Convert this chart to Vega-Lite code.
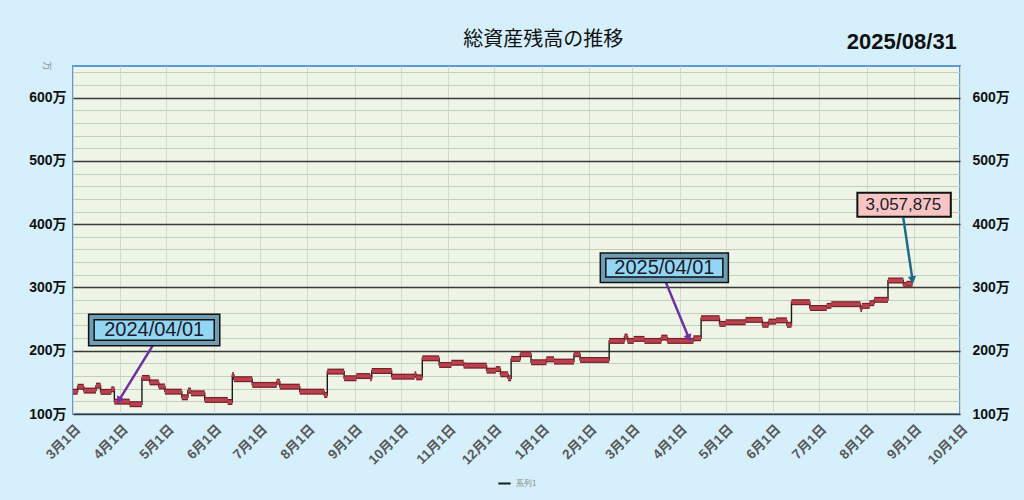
{
  "$schema": "https://vega.github.io/schema/vega-lite/v6.json",
  "width": 887,
  "height": 348,
  "autosize": {"type": "none"},
  "padding": {"left": 73, "top": 66, "right": 64, "bottom": 86},
  "background": "#d5f0fb",
  "config": {
    "view": {"fill": "#eef4e6", "stroke": "#5b9bd5", "strokeWidth": 2},
    "axis": {"labelFont": "Liberation Sans, Noto Sans CJK JP"},
    "axisX": {
      "format": "%-m月%-d日", "tickCount": "month",
      "labelAngle": -45, "labelFontSize": 13.5, "labelFontWeight": "bold", "labelColor": "#595959",
      "labelPadding": 8, "labelOverlap": false, "labelBound": false, "labelFlush": false,
      "ticks": false, "domain": false, "grid": true, "gridColor": "#d2d9ce",
      "titleOpacity": 0, "titleFontSize": 1, "titlePadding": 0
    },
    "legend": {"layout": {"bottom": {"anchor": "middle"}}}
  },
  "datasets": {
    "balance": [
      {"date": "2024-03-01", "total": 1352000},
      {"date": "2024-03-04", "total": 1430000},
      {"date": "2024-03-08", "total": 1370000},
      {"date": "2024-03-16", "total": 1448000},
      {"date": "2024-03-19", "total": 1350000},
      {"date": "2024-03-26", "total": 1390000},
      {"date": "2024-03-28", "total": 1195000},
      {"date": "2024-04-07", "total": 1155000},
      {"date": "2024-04-15", "total": 1570000},
      {"date": "2024-04-20", "total": 1500000},
      {"date": "2024-04-26", "total": 1435000},
      {"date": "2024-04-30", "total": 1353000},
      {"date": "2024-05-11", "total": 1264000},
      {"date": "2024-05-15", "total": 1370000},
      {"date": "2024-05-17", "total": 1327000},
      {"date": "2024-05-26", "total": 1222000},
      {"date": "2024-06-10", "total": 1190000},
      {"date": "2024-06-13", "total": 1617000},
      {"date": "2024-06-14", "total": 1550000},
      {"date": "2024-06-26", "total": 1460000},
      {"date": "2024-07-12", "total": 1510000},
      {"date": "2024-07-14", "total": 1432000},
      {"date": "2024-07-27", "total": 1353000},
      {"date": "2024-08-12", "total": 1300000},
      {"date": "2024-08-14", "total": 1670000},
      {"date": "2024-08-25", "total": 1565000},
      {"date": "2024-09-02", "total": 1600000},
      {"date": "2024-09-11", "total": 1565000},
      {"date": "2024-09-12", "total": 1680000},
      {"date": "2024-09-25", "total": 1590000},
      {"date": "2024-10-10", "total": 1628000},
      {"date": "2024-10-11", "total": 1580000},
      {"date": "2024-10-15", "total": 1880000},
      {"date": "2024-10-26", "total": 1775000},
      {"date": "2024-11-03", "total": 1810000},
      {"date": "2024-11-11", "total": 1764000},
      {"date": "2024-11-26", "total": 1685000},
      {"date": "2024-12-02", "total": 1710000},
      {"date": "2024-12-05", "total": 1628000},
      {"date": "2024-12-10", "total": 1565000},
      {"date": "2024-12-12", "total": 1870000},
      {"date": "2024-12-18", "total": 1945000},
      {"date": "2024-12-25", "total": 1818000},
      {"date": "2025-01-04", "total": 1865000},
      {"date": "2025-01-09", "total": 1828000},
      {"date": "2025-01-22", "total": 1945000},
      {"date": "2025-01-26", "total": 1854000},
      {"date": "2025-02-14", "total": 2155000},
      {"date": "2025-02-24", "total": 2223000},
      {"date": "2025-02-26", "total": 2155000},
      {"date": "2025-03-02", "total": 2187000},
      {"date": "2025-03-09", "total": 2155000},
      {"date": "2025-03-20", "total": 2207000},
      {"date": "2025-03-24", "total": 2155000},
      {"date": "2025-04-10", "total": 2197000},
      {"date": "2025-04-15", "total": 2514000},
      {"date": "2025-04-27", "total": 2424000},
      {"date": "2025-05-01", "total": 2450000},
      {"date": "2025-05-14", "total": 2487000},
      {"date": "2025-05-25", "total": 2410000},
      {"date": "2025-05-29", "total": 2460000},
      {"date": "2025-06-03", "total": 2480000},
      {"date": "2025-06-10", "total": 2410000},
      {"date": "2025-06-13", "total": 2767000},
      {"date": "2025-06-25", "total": 2675000},
      {"date": "2025-07-06", "total": 2709000},
      {"date": "2025-07-09", "total": 2736000},
      {"date": "2025-07-28", "total": 2660000},
      {"date": "2025-07-29", "total": 2709000},
      {"date": "2025-08-03", "total": 2752000},
      {"date": "2025-08-06", "total": 2804000},
      {"date": "2025-08-15", "total": 3110000},
      {"date": "2025-08-25", "total": 3040000},
      {"date": "2025-08-27", "total": 3057875},
      {"date": "2025-08-31", "total": 3057875}
    ],
    "notes": [
      {"id": "a", "label": "2024/04/01", "start": "2024-03-13", "end": "2024-06-03", "top": 2535000, "bottom": 2123000, "tx": "2024-04-23", "ty": 2329000, "fx": "2024-04-22", "fy": 2080000, "ax": "2024-03-31", "ay": 1215000},
      {"id": "b", "label": "2025/04/01", "start": "2025-02-10", "end": "2025-05-01", "top": 3500000, "bottom": 3120000, "tx": "2025-03-22", "ty": 3310000, "fx": "2025-03-23", "fy": 3080000, "ax": "2025-04-07", "ay": 2200000},
      {"id": "c", "label": "3,057,875", "start": "2025-07-26", "end": "2025-09-25", "top": 4497000, "bottom": 4117000, "tx": "2025-08-25", "ty": 4307000, "fx": "2025-08-25", "fy": 4100000, "ax": "2025-08-31", "ay": 3120000}
    ],
    "headings": [
      {"kind": "title", "label": "総資産残高の推移", "tx": "2025-01-02", "ty": 6918000},
      {"kind": "stamp", "label": "2025/08/31", "tx": "2025-08-24", "ty": 6886000}
    ]
  },
  "resolve": {"axis": {"y": "independent"}},
  "layer": [
    {
      "data": {"name": "balance"},
      "mark": {"type": "line", "interpolate": "step-after", "strokeWidth": 1.4},
      "encoding": {
        "x": {
          "field": "date", "type": "temporal", "title": "日付",
          "scale": {"type": "utc", "domain": [{"year": 2024, "month": 3, "date": 1, "utc": true}, {"year": 2025, "month": 10, "date": 1, "utc": true}]}
        },
        "y": {
          "field": "total", "type": "quantitative",
          "scale": {"domain": [1000000, 6500000], "nice": false, "zero": false},
          "axis": {
            "orient": "left",
            "values": [1000000, 1200000, 1400000, 1600000, 1800000, 2000000, 2200000, 2400000, 2600000, 2800000, 3000000, 3200000, 3400000, 3600000, 3800000, 4000000, 4200000, 4400000, 4600000, 4800000, 5000000, 5200000, 5400000, 5600000, 5800000, 6000000, 6200000, 6400000],
            "labelExpr": "datum.value % 1000000 === 0 ? (datum.value / 10000) + '万' : ''",
            "labelFontSize": 14, "labelFontWeight": "bold", "labelColor": "#111111", "labelPadding": 7,
            "ticks": false, "domain": false,
            "grid": true,
            "gridColor": {"condition": {"test": "datum.value % 1000000 === 0", "value": "#3a3a3a"}, "value": "#c4cebd"},
            "gridWidth": {"condition": {"test": "datum.value % 1000000 === 0", "value": 1.6}, "value": 1},
            "title": "万", "titleAngle": 90, "titleFontSize": 9, "titleFontWeight": "normal", "titleColor": "#8a8a8a", "titleFont": "Noto Sans CJK JP",
            "titleAnchor": "end", "titleX": -32, "titleY": 4
          }
        },
        "color": {
          "datum": "系列1", "type": "nominal",
          "scale": {"range": ["#1a1a1a"]},
          "legend": {"orient": "bottom", "title": null, "labelFontSize": 8, "labelColor": "#8a8a8a", "labelFont": "Noto Sans CJK JP", "symbolType": "stroke", "symbolStrokeWidth": 2, "symbolSize": 150, "offset": 8}
        }
      }
    },
    {
      "data": {"name": "balance"},
      "transform": [
        {"window": [{"op": "lead", "field": "date", "as": "next"}]},
        {"filter": "datum.next != null"}
      ],
      "mark": {"type": "rule", "strokeWidth": 6, "color": "#7a1f2b", "strokeCap": "butt"},
      "encoding": {
        "x": {"field": "date", "type": "temporal", "title": "日付"},
        "x2": {"field": "next"},
        "y": {
          "field": "total", "type": "quantitative",
          "axis": {
            "orient": "right",
            "values": [1000000, 2000000, 3000000, 4000000, 5000000, 6000000],
            "labelExpr": "(datum.value / 10000) + '万'",
            "labelFontSize": 14, "labelFontWeight": "bold", "labelColor": "#111111", "labelPadding": 12,
            "ticks": false, "domain": false, "grid": false, "title": null
          }
        }
      }
    },
    {
      "data": {"name": "balance"},
      "transform": [
        {"window": [{"op": "lead", "field": "date", "as": "next"}]},
        {"filter": "datum.next != null"}
      ],
      "mark": {"type": "rule", "strokeWidth": 3.5, "color": "#b8434f", "strokeCap": "butt"},
      "encoding": {
        "x": {"field": "date", "type": "temporal", "title": "日付"},
        "x2": {"field": "next"},
        "y": {"field": "total", "type": "quantitative", "axis": null}
      }
    },
    {
      "data": {"name": "notes"},
      "mark": {"type": "rule", "strokeWidth": 2.5},
      "encoding": {
        "x": {"field": "fx", "type": "temporal", "title": "日付"},
        "y": {"field": "fy", "type": "quantitative", "axis": null},
        "x2": {"field": "ax"},
        "y2": {"field": "ay"},
        "color": {"condition": {"test": "datum.id === 'c'", "value": "#1f6a8a"}, "value": "#7030a0"}
      }
    },
    {
      "data": {"name": "notes"},
      "mark": {"type": "point", "shape": "triangle-up", "filled": true, "size": 70, "opacity": 1},
      "encoding": {
        "x": {"field": "ax", "type": "temporal", "title": "日付"},
        "y": {"field": "ay", "type": "quantitative", "axis": null},
        "angle": {"condition": [{"test": "datum.id === 'a'", "value": 210}, {"test": "datum.id === 'b'", "value": 158}], "value": 171},
        "color": {"condition": {"test": "datum.id === 'c'", "value": "#1f6a8a"}, "value": "#7030a0"}
      }
    },
    {
      "data": {"name": "notes"},
      "mark": {"type": "rect", "stroke": "#111111"},
      "encoding": {
        "x": {"field": "start", "type": "temporal", "title": "日付"},
        "x2": {"field": "end"},
        "y": {"field": "top", "type": "quantitative", "axis": null},
        "y2": {"field": "bottom"},
        "fill": {"condition": {"test": "datum.id === 'c'", "value": "#f7c4c4"}, "value": "#93d6f4"},
        "strokeWidth": {"condition": {"test": "datum.id === 'c'", "value": 2}, "value": 7}
      }
    },
    {
      "data": {"name": "notes"},
      "transform": [{"filter": "datum.id !== 'c'"}],
      "mark": {"type": "rect", "fill": null, "fillOpacity": 0, "stroke": "#6f9db3", "strokeWidth": 4},
      "encoding": {
        "x": {"field": "start", "type": "temporal", "title": "日付"},
        "x2": {"field": "end"},
        "y": {"field": "top", "type": "quantitative", "axis": null},
        "y2": {"field": "bottom"}
      }
    },
    {
      "data": {"name": "notes"},
      "mark": {"type": "text", "align": "center", "baseline": "middle", "color": "#1a1a2a"},
      "encoding": {
        "x": {"field": "tx", "type": "temporal", "title": "日付"},
        "y": {"field": "ty", "type": "quantitative", "axis": null},
        "text": {"field": "label"},
        "font": {"condition": {"test": "datum.id === 'c'", "value": "Liberation Sans"}, "value": "Noto Sans"},
        "size": {"condition": {"test": "datum.id === 'c'", "value": 17}, "value": 20}
      }
    },
    {
      "data": {"name": "headings"},
      "transform": [{"filter": "datum.kind === 'title'"}],
      "mark": {"type": "text", "align": "center", "baseline": "middle", "color": "#111111", "font": "Noto Sans CJK JP", "fontSize": 20},
      "encoding": {
        "x": {"field": "tx", "type": "temporal", "title": "日付"},
        "y": {"field": "ty", "type": "quantitative", "axis": null},
        "text": {"field": "label"}
      }
    },
    {
      "data": {"name": "headings"},
      "transform": [{"filter": "datum.kind === 'stamp'"}],
      "mark": {"type": "text", "align": "center", "baseline": "middle", "color": "#111111", "font": "Liberation Sans", "fontWeight": "bold", "fontSize": 22},
      "encoding": {
        "x": {"field": "tx", "type": "temporal", "title": "日付"},
        "y": {"field": "ty", "type": "quantitative", "axis": null},
        "text": {"field": "label"}
      }
    }
  ]
}
